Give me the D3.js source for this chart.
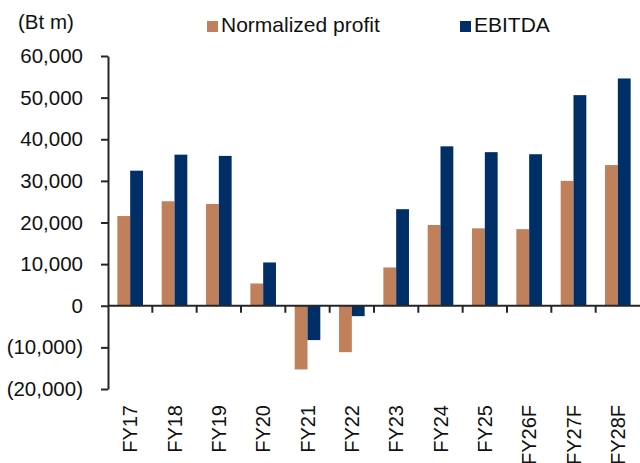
<!DOCTYPE html>
<html>
<head>
<meta charset="utf-8">
<script src="https://cdn.jsdelivr.net/npm/d3@7"></script>
<style>
  body { margin: 0; background: #fff; }
  text { font-family: "Liberation Sans", Arial, sans-serif; fill: #111; }
</style>
</head>
<body>
<div id="chart"></div>
<script>
let years = ["FY17","FY18","FY19","FY20","FY21","FY22","FY23","FY24","FY25","FY26F","FY27F","FY28F"];
let normProfit = [21550, 25100, 24450, 5350, -15300, -11150, 9200, 19400, 18600, 18400, 30000, 33800];
let ebitda = [32450, 36300, 36000, 10400, -8250, -2500, 23200, 38300, 36900, 36400, 50600, 54600];
let seriesNames = ["Normalized profit", "EBITDA"];
let colors = ["#c0805b", "#002f67"];
let yTicks = [-20000, -10000, 0, 10000, 20000, 30000, 40000, 50000, 60000];

let W = 640, H = 463;
let plotL = 108, plotR = 640, plotT = 56, plotB = 389;

let svg = d3.select("#chart").append("svg")
  .attr("width", W)
  .attr("height", H);

let x = d3.scaleBand().domain(years).range([plotL, plotR]).padding(0);
let sub = d3.scaleBand().domain(seriesNames).range([0, x.bandwidth()]).paddingInner(0).paddingOuter(0.73);
let y = d3.scaleLinear().domain([-20000, 60000]).range([plotB, plotT]);

function fmt(v){
  if (v < 0) return "(" + d3.format(",")(-v) + ")";
  return d3.format(",")(v);
}

// bars
let rows = years.map((yr, i) => ({yr: yr, vals: [normProfit[i], ebitda[i]]}));
let groups = svg.selectAll("g.grp").data(rows).enter().append("g")
  .attr("class", "grp")
  .attr("transform", d => "translate(" + x(d.yr) + ",0)");

groups.selectAll("rect").data(d => d.vals.map((v, j) => ({k: seriesNames[j], v: v, c: colors[j]})))
  .enter().append("rect")
    .attr("x", d => sub(d.k))
    .attr("width", sub.bandwidth())
    .attr("y", d => y(Math.max(0, d.v)))
    .attr("height", d => Math.abs(y(d.v) - y(0)))
    .attr("fill", d => d.c);

// y axis
let yAxis = svg.append("g")
  .attr("transform", "translate(" + plotL + ",0)")
  .call(d3.axisLeft(y).tickValues(yTicks).tickFormat(fmt).tickSize(7).tickSizeOuter(0).tickPadding(18));
yAxis.select(".domain").attr("stroke", "#262626").attr("stroke-width", 2);
yAxis.selectAll(".tick line").attr("stroke", "#262626").attr("stroke-width", 2);
yAxis.selectAll(".tick text").attr("font-size", "20.5px").attr("fill", "#111")
  .attr("font-family", "Liberation Sans, Arial, sans-serif");

// zero line with ticks at category boundaries
let zero = svg.append("g");
zero.append("line")
  .attr("x1", plotL).attr("x2", plotR)
  .attr("y1", y(0)).attr("y2", y(0))
  .attr("stroke", "#262626").attr("stroke-width", 2);
let bounds = years.map(d => x(d) + x.bandwidth()).slice(0, years.length - 1);
zero.selectAll("line.tk").data(bounds).enter().append("line")
  .attr("class", "tk")
  .attr("x1", d => d).attr("x2", d => d)
  .attr("y1", y(0)).attr("y2", y(0) + 7)
  .attr("stroke", "#262626").attr("stroke-width", 2);

// x labels
svg.selectAll("text.xl").data(years).enter().append("text")
  .attr("class", "xl")
  .attr("transform", d => "translate(" + (x(d) + x.bandwidth() / 2) + ",405) rotate(-90)")
  .attr("text-anchor", "end")
  .attr("dy", "0.35em")
  .attr("font-size", "20px")
  .text(d => d);

// unit label
svg.append("text")
  .attr("x", 18).attr("y", 29)
  .attr("font-size", "20.5px")
  .text("(Bt m)");

// legend
let legX = [207, 460];
let leg = svg.selectAll("g.leg").data(seriesNames).enter().append("g")
  .attr("class", "leg")
  .attr("transform", (d, i) => "translate(" + legX[i] + ",0)");
leg.append("rect")
  .attr("x", 0).attr("y", 21)
  .attr("width", 11).attr("height", 11)
  .attr("fill", (d, i) => colors[i]);
leg.append("text")
  .attr("x", 14).attr("y", 32)
  .attr("font-size", "21px")
  .text(d => d);
</script>
</body>
</html>
